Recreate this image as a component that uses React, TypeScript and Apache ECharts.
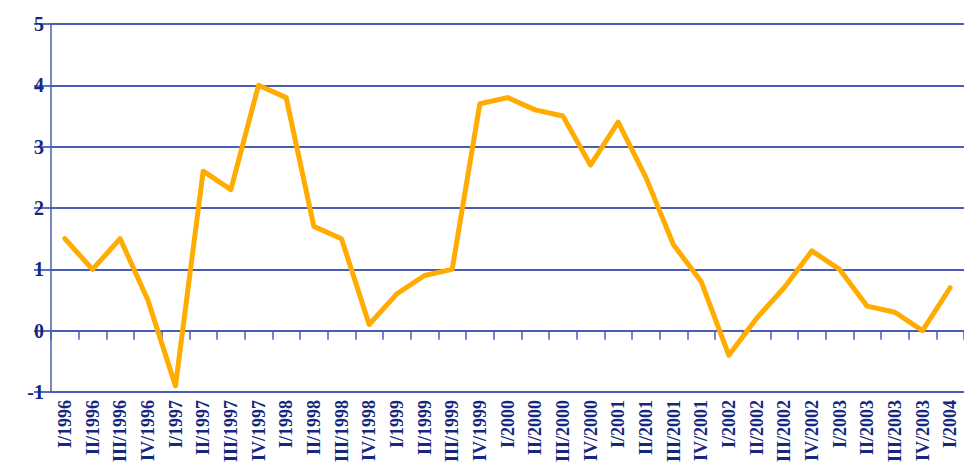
import React, { useEffect, useRef } from "react";
import * as echarts from "echarts";

// quarters I/1996 .. I/2004
const quarters: string[] = [
  "I/1996", "II/1996", "III/1996", "IV/1996",
  "I/1997", "II/1997", "III/1997", "IV/1997",
  "I/1998", "II/1998", "III/1998", "IV/1998",
  "I/1999", "II/1999", "III/1999", "IV/1999",
  "I/2000", "II/2000", "III/2000", "IV/2000",
  "I/2001", "II/2001", "III/2001", "IV/2001",
  "I/2002", "II/2002", "III/2002", "IV/2002",
  "I/2003", "II/2003", "III/2003", "IV/2003",
  "I/2004",
];

const values: number[] = [
  1.5, 1.0, 1.5, 0.5,
  -0.9, 2.6, 2.3, 4.0,
  3.8, 1.7, 1.5, 0.1,
  0.6, 0.9, 1.0, 3.7,
  3.8, 3.6, 3.5, 2.7,
  3.4, 2.5, 1.4, 0.8,
  -0.4, 0.2, 0.7, 1.3,
  1.0, 0.4, 0.3, 0.0,
  0.7,
];

const yMin = -1;
const yMax = 5;

const navy = "#15277f";
const gridBlue = "#4a5db4";

const App: React.FC = () => {
  const chartRef = useRef<HTMLDivElement>(null);

  useEffect(() => {
    document.body.style.margin = "0";
    const chartDom = chartRef.current;
    if (!chartDom) return;

    const myChart = echarts.init(chartDom, undefined, { renderer: "svg" });

    const option: echarts.EChartsOption = {
      animation: false,
      grid: {
        left: 51,
        right: -8,
        top: 24,
        bottom: 74,
        containLabel: false,
      },
      xAxis: [
        {
          // axis sitting on zero, ticks only
          type: "category",
          data: quarters,
          position: "bottom",
          boundaryGap: true,
          axisLine: {
            show: true,
            onZero: true,
            lineStyle: { color: gridBlue, width: 1.8 },
          },
          axisTick: {
            show: true,
            interval: 0,
            length: 9,
            lineStyle: { color: gridBlue, width: 1.5 },
          },
          axisLabel: { show: false },
          splitLine: { show: false },
        },
        {
          // labels at the bottom
          type: "category",
          data: quarters,
          position: "bottom",
          boundaryGap: true,
          axisLine: { show: false, onZero: false },
          axisTick: { show: false },
          splitLine: { show: false },
          axisLabel: {
            interval: 0,
            rotate: 90,
            margin: 8,
            color: navy,
            fontFamily: "Liberation Serif",
            fontWeight: "bold",
            fontSize: 18,
          },
        },
      ],
      yAxis: {
        type: "value",
        min: yMin,
        max: yMax,
        interval: 1,
        axisLine: {
          show: true,
          lineStyle: { color: gridBlue, width: 1.5 },
        },
        axisTick: {
          show: true,
          length: 17,
          lineStyle: { color: gridBlue, width: 1.8 },
        },
        splitLine: {
          show: true,
          lineStyle: { color: gridBlue, width: 1.8 },
        },
        axisLabel: {
          margin: 7,
          color: navy,
          fontFamily: "Liberation Serif",
          fontWeight: "bold",
          fontSize: 20,
        },
      },
      series: [
        {
          type: "line",
          xAxisIndex: 0,
          data: values,
          showSymbol: false,
          lineStyle: {
            color: "#ffab00",
            width: 5,
            cap: "round",
            join: "round",
          },
        },
      ],
    };

    myChart.setOption(option);

    return () => {
      myChart.dispose();
    };
  }, []);

  return <div ref={chartRef} style={{ width: "964px", height: "466px" }} />;
};

export default App;
